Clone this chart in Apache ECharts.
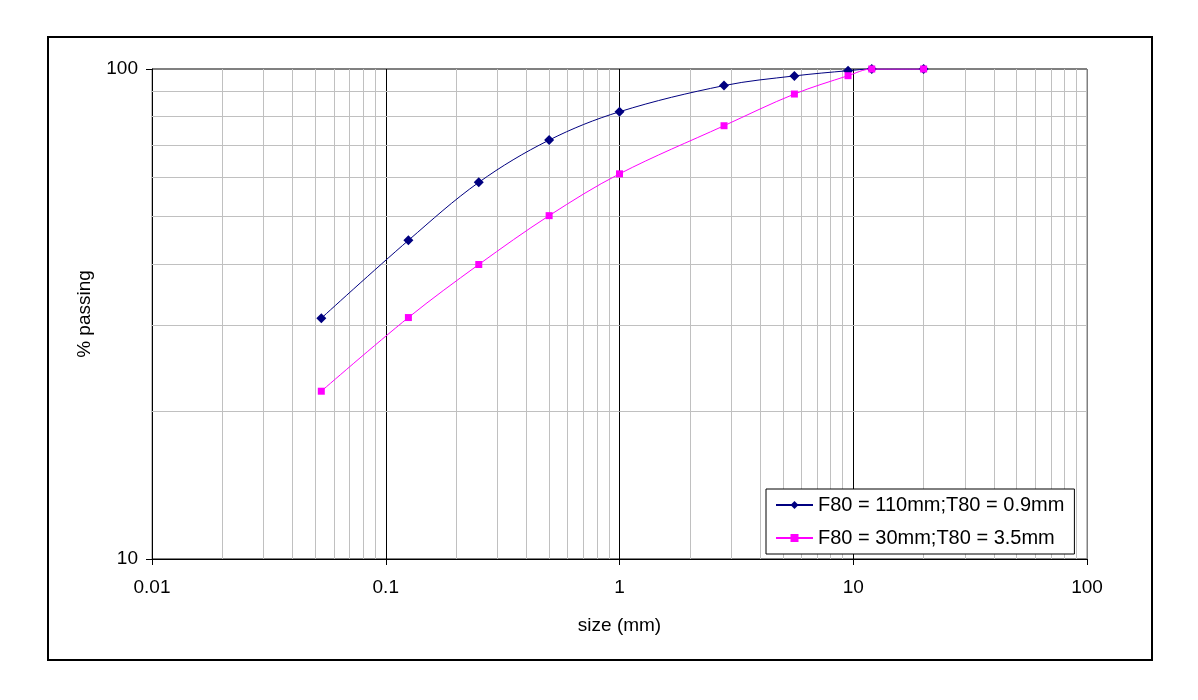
<!DOCTYPE html>
<html>
<head>
<meta charset="utf-8">
<script src="https://cdn.jsdelivr.net/npm/echarts@6/dist/echarts.min.js"></script>
<style>
  html, body { margin: 0; padding: 0; background: #fff; }
  #chart { width: 1198px; height: 700px; }
</style>
</head>
<body>
<div id="chart"></div>
<script>
// sieve sizes (mm)
const sizes = [0.053, 0.125, 0.25, 0.5, 1, 2.8, 5.6, 9.5, 12, 20];
// % passing for each feed
const passingF110 = [31.0, 44.7, 58.7, 71.6, 81.8, 92.5, 96.8, 99.2, 100, 100];
const passingF30 = [22.0, 31.1, 39.9, 50.2, 61.1, 76.6, 88.9, 96.9, 100, 100];
const seriesNames = ['F80 = 110mm;T80 = 0.9mm', 'F80 = 30mm;T80 = 3.5mm'];

// minor gridline positions on the log axes
const xMinorTicks = [
  0.02, 0.03, 0.04, 0.05, 0.06, 0.07, 0.08, 0.09,
  0.2, 0.3, 0.4, 0.5, 0.6, 0.7, 0.8, 0.9,
  2, 3, 4, 5, 6, 7, 8, 9,
  20, 30, 40, 50, 60, 70, 80, 90
];
const yMinorTicks = [20, 30, 40, 50, 60, 70, 80, 90];

const font = '"Liberation Sans", Arial, sans-serif';
const chart = echarts.init(document.getElementById('chart'));

const option = {
  backgroundColor: '#ffffff',
  animation: false,
  textStyle: { fontFamily: font },
  graphic: [{
    type: 'rect',
    shape: { x: 48, y: 37, width: 1104, height: 623 },
    style: { fill: 'none', stroke: '#000', lineWidth: 2 },
    silent: true,
    z: -10
  }],
  grid: {
    left: 152,
    right: 111,
    top: 69,
    bottom: 141,
    show: true,
    borderColor: '#808080',
    borderWidth: 1
  },
  legend: {
    data: seriesNames,
    orient: 'vertical',
    left: 766,
    top: 489,
    z: 100,
    padding: [6, 10, 6, 9],
    itemWidth: 37,
    itemHeight: 10,
    itemGap: 13,
    backgroundColor: '#fff',
    borderColor: '#000',
    borderWidth: 1,
    textStyle: { fontFamily: font, fontSize: 20, color: '#000', lineHeight: 20 }
  },
  xAxis: {
    type: 'log',
    logBase: 10,
    min: 0.01,
    max: 100,
    name: 'size (mm)',
    nameLocation: 'middle',
    nameGap: 57,
    nameTextStyle: { fontFamily: font, fontSize: 19, color: '#000' },
    axisLine: { onZero: false, lineStyle: { color: '#000', width: 1 } },
    axisTick: { show: true, length: 6, lineStyle: { color: '#000' } },
    axisLabel: {
      fontFamily: font, fontSize: 19, color: '#000', margin: 19,
      formatter: v => String(+v.toPrecision(3))
    },
    splitLine: {
      show: true,
      lineStyle: { color: ['#000', '#000', '#000', '#000', '#808080'], width: 1 }
    }
  },
  yAxis: {
    type: 'log',
    logBase: 10,
    min: 10,
    max: 100,
    name: '% passing',
    nameLocation: 'middle',
    nameGap: 58,
    nameTextStyle: { fontFamily: font, fontSize: 19, color: '#000' },
    axisLine: { onZero: false, lineStyle: { color: '#000', width: 1 } },
    axisTick: { show: true, length: 6, lineStyle: { color: '#000' } },
    axisLabel: { fontFamily: font, fontSize: 19, color: '#000', margin: 14 },
    splitLine: { show: true, lineStyle: { color: '#808080', width: 2 } }
  },
  series: [
    {
      name: 'minor grid',
      type: 'line',
      data: [],
      silent: true,
      z: 1,
      markLine: {
        silent: true,
        z: 1,
        symbol: 'none',
        label: { show: false },
        emphasis: { disabled: true },
        lineStyle: { color: '#c0c0c0', width: 1, type: 'solid' },
        data: [
          ...xMinorTicks.map(v => ({ xAxis: v })),
          ...yMinorTicks.map(v => ({ yAxis: v }))
        ]
      }
    },
    {
      name: seriesNames[0],
      type: 'line',
      z: 3,
      data: sizes.map((s, i) => [s, passingF110[i]]),
      smooth: 0.35,
      symbol: 'diamond',
      symbolSize: 10,
      itemStyle: { color: '#000080' },
      lineStyle: { color: '#000080', width: 1 }
    },
    {
      name: seriesNames[1],
      type: 'line',
      z: 4,
      data: sizes.map((s, i) => [s, passingF30[i]]),
      smooth: 0.35,
      symbol: 'rect',
      symbolSize: 7,
      itemStyle: { color: '#ff00ff' },
      lineStyle: { color: '#ff00ff', width: 1 }
    }
  ]
};

chart.setOption(option);
</script>
</body>
</html>
